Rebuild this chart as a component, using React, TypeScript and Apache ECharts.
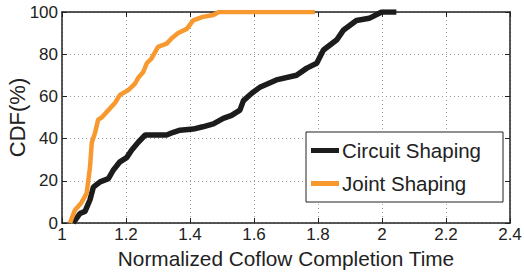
import React, { useEffect, useRef } from "react";
import * as echarts from "echarts";

const circuitX = [1.035, 1.056, 1.072, 1.0875, 1.098, 1.119, 1.145, 1.16, 1.181, 1.202, 1.218, 1.239, 1.26, 1.327, 1.348, 1.369, 1.41, 1.44, 1.473, 1.504, 1.53, 1.556, 1.567, 1.593, 1.62, 1.67, 1.733, 1.765, 1.796, 1.817, 1.858, 1.88, 1.92, 1.96, 1.999, 2.045];
const circuitY = [0, 4.5, 5.5, 11, 17, 19.5, 21, 25, 29, 31, 34.6, 38.4, 41.7, 41.7, 43, 44, 44.5, 45.6, 47, 49.6, 51, 53.5, 58, 61.5, 64.5, 67.8, 70, 73.4, 75.7, 82, 86.7, 91.5, 96, 97, 100, 100];
const jointX = [1.025, 1.04, 1.06, 1.077, 1.0875, 1.093, 1.103, 1.113, 1.124, 1.145, 1.166, 1.181, 1.207, 1.228, 1.239, 1.254, 1.265, 1.28, 1.3, 1.327, 1.343, 1.363, 1.39, 1.41, 1.44, 1.473, 1.49, 1.79];
const jointY = [0, 6, 9.5, 14, 26.5, 38, 42.6, 49, 50, 53.5, 57, 60.7, 63, 66, 69, 71.6, 75.7, 78, 83.5, 85, 87.6, 90, 92, 96, 97.7, 98.6, 100, 100];
const seriesNames = ["Circuit Shaping", "Joint Shaping"];
const xTitle = "Normalized Coflow Completion Time";
const yTitle = "CDF(%)";

const FONT = "Liberation Sans, Arial, sans-serif";

export default function App() {
  const ref = useRef<HTMLDivElement>(null);
  useEffect(() => {
    if (!ref.current) return;
    const chart = echarts.init(ref.current, undefined, { renderer: "svg" });
    const pair = (xs: number[], ys: number[]) => xs.map((x, i) => [x, ys[i]]);
    const axisCommon = {
      axisLine: { show: true, onZero: false, lineStyle: { color: "#222", width: 1.5 } },
      axisTick: { show: true, inside: true, length: 5, lineStyle: { color: "#222" } },
    };
    chart.setOption({
      animation: false,
      backgroundColor: "#fff",
      grid: { left: 62, right: 14, top: 12, bottom: 52, containLabel: false, outerBoundsMode: "none" },
      xAxis: [
        {
          type: "value", min: 1, max: 2.4, interval: 0.2,
          ...axisCommon,
          axisLabel: { color: "#222", fontSize: 17, fontFamily: FONT, margin: 3 },
          splitLine: { show: true, lineStyle: { color: "#999", type: [1, 3], width: 1 } },
          name: xTitle, nameLocation: "middle", nameGap: 24,
          nameTextStyle: { color: "#222", fontSize: 20.8, fontFamily: FONT },
        },
        {
          type: "value", min: 1, max: 2.4, interval: 0.2, position: "top",
          ...axisCommon, axisLabel: { show: false }, splitLine: { show: false },
        },
      ],
      yAxis: [
        {
          type: "value", min: 0, max: 100, interval: 20,
          ...axisCommon,
          axisLabel: { color: "#222", fontSize: 17, fontFamily: FONT, margin: 4 },
          splitLine: { show: true, lineStyle: { color: "#999", type: [1, 3], width: 1 } },
          name: yTitle, nameLocation: "middle", nameGap: 34, nameMoveOverlap: false,
          nameTextStyle: { color: "#222", fontSize: 22, fontFamily: FONT },
        },
        {
          type: "value", min: 0, max: 100, interval: 20, position: "right",
          ...axisCommon, axisLabel: { show: false }, splitLine: { show: false },
        },
      ],
      legend: {
        orient: "vertical",
        left: 306, top: 132,
        backgroundColor: "#fff",
        borderColor: "#222", borderWidth: 1,
        padding: [8, 22, 8, 5],
        itemGap: 12,
        itemWidth: 28, itemHeight: 5,
        icon: "rect",
        textStyle: { fontSize: 20.5, fontFamily: FONT, color: "#222", padding: [0, 0, 0, -2], lineHeight: 21 },
        data: seriesNames,
      },
      series: [
        {
          name: seriesNames[0], type: "line", data: pair(circuitX, circuitY),
          showSymbol: false, symbol: "none",
          lineStyle: { color: "#1c1c1c", width: 5.5 }, itemStyle: { color: "#1c1c1c" },
        },
        {
          name: seriesNames[1], type: "line", data: pair(jointX, jointY),
          showSymbol: false, symbol: "none",
          lineStyle: { color: "#F7992F", width: 4.5 }, itemStyle: { color: "#F7992F" },
        },
      ],
    });
    return () => chart.dispose();
  }, []);
  return <div ref={ref} style={{ position: "fixed", left: 0, top: 0, width: 524, height: 275 }} />;
}
